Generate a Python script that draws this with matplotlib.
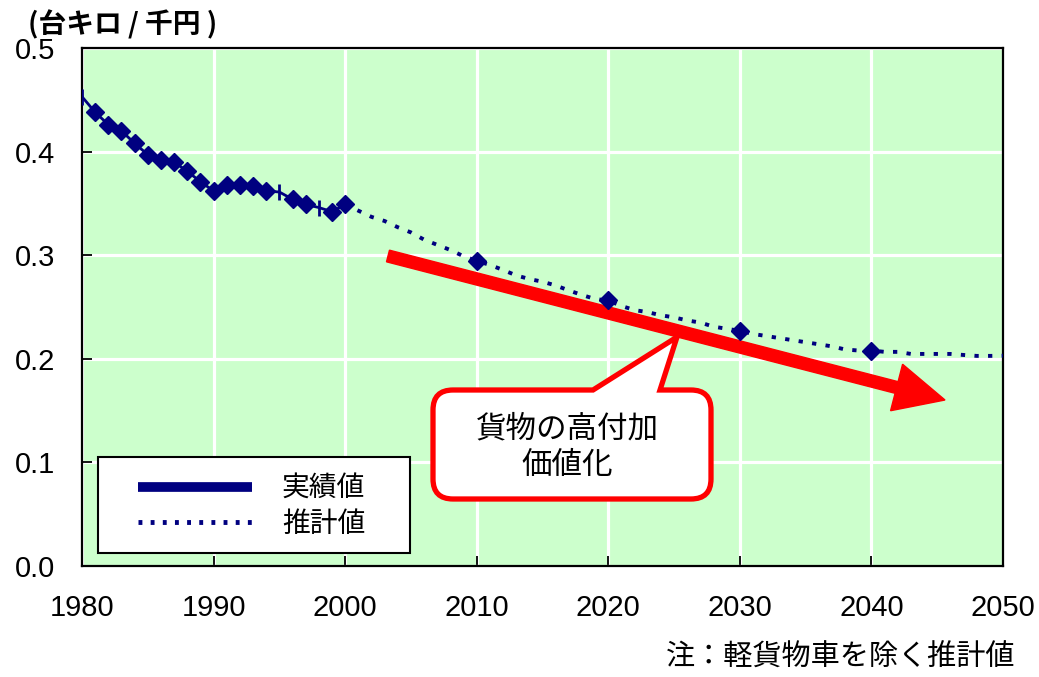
import numpy as np
import matplotlib
matplotlib.use('Agg')
import matplotlib.pyplot as plt
from matplotlib.path import Path
from matplotlib.patches import PathPatch, FancyArrow, Rectangle
from matplotlib.lines import Line2D
from matplotlib.transforms import Affine2D

plt.rcParams['font.family'] = ['Noto Sans CJK JP', 'DejaVu Sans']

# 実績値 (actual values)
actual_years = list(range(1980, 2001))
actual_vals = [0.453, 0.438, 0.426, 0.420, 0.408, 0.397, 0.392, 0.390, 0.381, 0.371,
               0.362, 0.368, 0.368, 0.367, 0.362, 0.361, 0.354, 0.349, 0.346, 0.342,
               0.349]
# years that show a short vertical tick instead of a diamond
tick_years = [1980, 1995, 1998]

# 推計値 (projection)
proj_years = list(range(2000, 2051))
proj_vals = [0.349,
             0.343, 0.337, 0.333, 0.327, 0.322, 0.315, 0.310, 0.305, 0.299, 0.2945,
             0.2906, 0.2858, 0.2805, 0.277, 0.2744, 0.2708, 0.266, 0.2616, 0.2577, 0.2563,
             0.251, 0.247, 0.245, 0.242, 0.240, 0.237, 0.235, 0.231, 0.229, 0.227,
             0.224, 0.222, 0.220, 0.218, 0.216, 0.214, 0.212, 0.209, 0.208, 0.208,
             0.2067, 0.2067, 0.2047, 0.2047, 0.2047, 0.2047, 0.2037, 0.2028, 0.2028, 0.203]
proj_marked = [2010, 2020, 2030, 2040]

x_ticks = list(range(1980, 2051, 10))
y_ticks = [0.0, 0.1, 0.2, 0.3, 0.4, 0.5]

unit_label = '(台キロ / 千円 )'
legend_labels = ['実績値', '推計値']
callout_lines = ['貨物の高付加', '価値化']
note = '注：軽貨物車を除く推計値'

navy = '#000080'
W, H = 1039, 677
fig = plt.figure(figsize=(W / 100, H / 100), dpi=100)
ax = fig.add_axes([82 / W, 1 - 566 / H, 921 / W, 518 / H])
ax.set_facecolor('#CCFFCC')
ax.set_xlim(1980, 2050)
ax.set_ylim(0, 0.5)
ax.grid(color='white', lw=2.3)
ax.set_axisbelow(True)
for s in ax.spines.values():
    s.set_linewidth(1.6)
    s.set_color('black')

num_font = ['Liberation Sans', 'DejaVu Sans']
ax.set_xticks(x_ticks)
ax.set_xticklabels([str(v) for v in x_ticks], family=num_font, fontsize=21)
ax.set_yticks(y_ticks)
ax.set_yticklabels([f'{v:.1f}' for v in y_ticks], family=num_font, fontsize=21)
ax.tick_params(axis='x', direction='in', length=7, width=1.3, pad=20)
ax.tick_params(axis='y', direction='in', length=7, width=1.3, pad=19)

# actual series
ax.plot(actual_years, actual_vals, color=navy, lw=2.0, zorder=5)
dia_idx = [i for i, y in enumerate(actual_years) if y not in tick_years]
tck_idx = [i for i, y in enumerate(actual_years) if y in tick_years]
ax.plot([actual_years[i] for i in dia_idx], [actual_vals[i] for i in dia_idx],
        ls='none', marker='D', ms=9, color=navy, zorder=6)
ax.plot([actual_years[i] for i in tck_idx], [actual_vals[i] for i in tck_idx],
        ls='none', marker='|', ms=11, mew=2.0, color=navy, zorder=6)

# projection series
ax.plot(proj_years, proj_vals, color=navy, lw=2.8, dashes=(1.1, 2.4), zorder=5)
pm = [proj_years.index(y) for y in proj_marked]
ax.plot([proj_years[i] for i in pm], [proj_vals[i] for i in pm],
        ls='none', marker='D', ms=9, color=navy, zorder=6)

# pixel coordinate transform (origin top-left)
px = Affine2D().scale(1 / W, -1 / H).translate(0, 1) + fig.transFigure

# red trend arrow
arrow = FancyArrow(388, 256, 557, 144, width=12, head_width=48, head_length=50,
                   length_includes_head=True, color='red', transform=px, zorder=3)
ax.add_artist(arrow)

# callout bubble
x0, x1, y0, y1, r = 433, 711, 390, 499, 20
verts = [(x0 + r, y0), (593, y0), (677, 337), (660, y0), (x1 - r, y0),
         (x1, y0), (x1, y0 + r), (x1, y1 - r),
         (x1, y1), (x1 - r, y1), (x0 + r, y1),
         (x0, y1), (x0, y1 - r), (x0, y0 + r),
         (x0, y0), (x0 + r, y0), (x0 + r, y0)]
codes = [Path.MOVETO, Path.LINETO, Path.LINETO, Path.LINETO, Path.LINETO,
         Path.CURVE3, Path.CURVE3, Path.LINETO,
         Path.CURVE3, Path.CURVE3, Path.LINETO,
         Path.CURVE3, Path.CURVE3, Path.LINETO,
         Path.CURVE3, Path.CURVE3, Path.CLOSEPOLY]
bubble = PathPatch(Path(verts, codes), facecolor='white', edgecolor='red', lw=3.8,
                   transform=px, zorder=4)
ax.add_artist(bubble)
ax.text(567, 429, callout_lines[0], transform=px, ha='center', va='center', fontsize=22, zorder=7)
ax.text(567, 466, callout_lines[1], transform=px, ha='center', va='center', fontsize=22, zorder=7)

# legend box
ax.add_artist(Rectangle((98, 457), 312, 96, facecolor='white', edgecolor='black', lw=1.5,
                        transform=px, zorder=7))
ax.add_artist(Line2D([138, 252], [487, 487], color=navy, lw=7, solid_capstyle='butt',
                     transform=px, zorder=8))
ax.add_artist(Line2D([138, 252], [522, 522], color=navy, lw=3.5, dashes=(0.8, 1.7),
                     transform=px, zorder=8))
ax.text(282, 489, legend_labels[0], transform=px, va='center', fontsize=20, zorder=8)
ax.text(282, 524, legend_labels[1], transform=px, va='center', fontsize=20, zorder=8)

fig.text(28 / W, 1 - 25 / H, unit_label, fontsize=20, fontweight='bold', va='center', ha='left')
fig.text(1015 / W, 1 - 658 / H, note, fontsize=21, va='center', ha='right')

fig.savefig('out.png', dpi=100)
